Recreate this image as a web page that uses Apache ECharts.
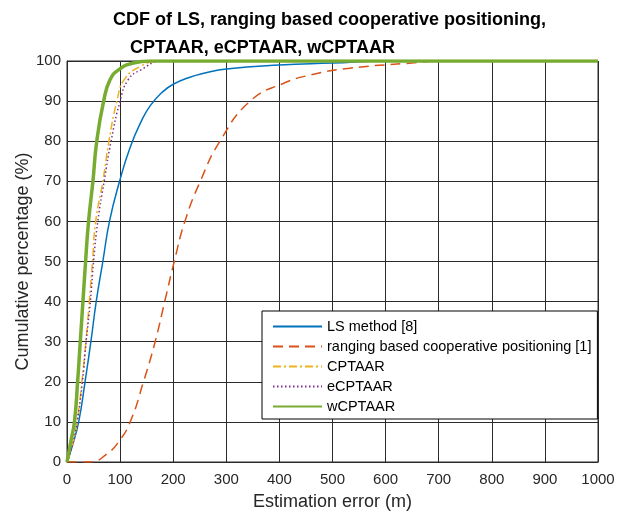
<!DOCTYPE html>
<html><head><meta charset="utf-8">
<script src="https://cdn.jsdelivr.net/npm/echarts@6/dist/echarts.min.js"></script>
<style>html,body{margin:0;padding:0;background:#fff}#c{width:617px;height:513px}</style>
</head><body><div id="c"></div>
<script>
// ---- data ----
const xTicks = [0,100,200,300,400,500,600,700,800,900,1000];
const yTicks = [0,10,20,30,40,50,60,70,80,90,100];

const lsX = [0,10,22,34,45,55,67.5,80,99,119,140,157.5,180,200,230,260,300,400,500,600,1000];
const lsY = [0,4,10,20,30,40,50,60,70,78.5,85,89,92.3,94.2,95.9,97,98,99,99.5,100,100];

const rangX = [0,44,75,97,119,144,166,184,202,222,251,288,345,407,458,533,640,720,1000];
const rangY = [0,0,2,5,10,20,30,40,50,60,70,80,90,94.4,96.5,98.2,99.4,100,100];

const cptX = [0,10,19,28,35.6,42,48,54,67.5,79,94,107.5,137.5,175,1000];
const cptY = [0,4,10,20,30,40,50,60,70,80,90,95.3,98.6,100,100];

const ecptX = [0,10,19,29,36,44,50,58,70,83,100,115,139,181,1000];
const ecptY = [0,4,10,20,30,40,50,60,70,80,90,95.3,97.8,100,100];

const wcptX = [0,7,14,20,25,30,35,40.6,48.8,56,69,81,97,125,156,1000];
const wcptY = [0,5,10,20,30,40,50,60,70,80,90,95.3,97.8,99.5,100,100];

const names = ['LS method [8]','ranging based cooperative positioning [1]','CPTAAR','eCPTAAR','wCPTAAR'];
const titleLine1 = 'CDF of LS, ranging based cooperative positioning,';
const titleLine2 = 'CPTAAR, eCPTAAR, wCPTAAR';

function pairs(xs, ys){ return xs.map((x,i)=>[x, ys[i]]); }

const chart = echarts.init(document.getElementById('c'));
const font = 'Liberation Sans, Arial, Helvetica, sans-serif';
const gridColor = '#2b2b2b';
function line(name, xs, ys, color, width, type){
  return {name, type:'line', data:pairs(xs,ys), symbol:'none', smooth:0.5,
    lineStyle:{color, width, type}, itemStyle:{color}, z: 3};
}
chart.setOption({
  animation:false,
  backgroundColor:'#fff',
  textStyle:{fontFamily:font},
  title:[
    {text:titleLine1, left:113, top:11, textStyle:{fontSize:18, fontWeight:'bold', color:'#000', fontFamily:font}, padding:0},
    {text:titleLine2, left:130, top:39, textStyle:{fontSize:18, fontWeight:'bold', color:'#000', fontFamily:font}, padding:0}
  ],
  grid:{left:67, right:19, top:61, bottom:51, outerBoundsMode:'none', containLabel:false,
    show:true, borderColor:gridColor, borderWidth:1, backgroundColor:'transparent'},
  legend:{
    orient:'vertical', left:262, top:311, padding:[8,6,5,10],
    backgroundColor:'#fff', borderColor:'#000', borderWidth:1, borderRadius:0,
    itemWidth:49, itemHeight:14, itemGap:5,
    itemStyle:{opacity:0},
    textStyle:{fontSize:14.5, color:'#000', fontFamily:font},
    data:names
  },
  xAxis:{type:'value', min:0, max:1000, interval:100,
    name:'Estimation error (m)', nameLocation:'middle', nameGap:31, nameMoveOverlap:false,
    nameTextStyle:{fontSize:18, color:'#262626', fontFamily:font, verticalAlign:'top'},
    axisLine:{show:true, lineStyle:{color:gridColor}},
    axisTick:{show:true, inside:true, length:5, lineStyle:{color:gridColor}},
    axisLabel:{fontSize:15, color:'#262626', margin:10, fontFamily:font, formatter:v=>String(v)},
    splitLine:{show:true, lineStyle:{color:gridColor, width:1}}
  },
  yAxis:{type:'value', min:0, max:100, interval:10,
    name:'Cumulative percentage (%)', nameLocation:'middle', nameGap:35, nameRotate:90, nameMoveOverlap:false,
    nameTextStyle:{fontSize:18, color:'#262626', fontFamily:font},
    axisLine:{show:true, lineStyle:{color:gridColor}},
    axisTick:{show:true, inside:true, length:5, lineStyle:{color:gridColor}},
    axisLabel:{fontSize:15, color:'#262626', margin:6, fontFamily:font},
    splitLine:{show:true, lineStyle:{color:gridColor, width:1}}
  },
  series:[
    line(names[0], lsX, lsY, '#0072BD', 1.5, 'solid'),
    line(names[1], rangX, rangY, '#D95319', 1.5, [10,6]),
    line(names[2], cptX, cptY, '#EDB120', 1.5, [8,3,2,3]),
    line(names[3], ecptX, ecptY, '#7E2F8E', 1.5, [1.5,2.5]),
    line(names[4], wcptX, wcptY, '#77AC30', 3.5, 'solid')
  ]
});
</script></body></html>
